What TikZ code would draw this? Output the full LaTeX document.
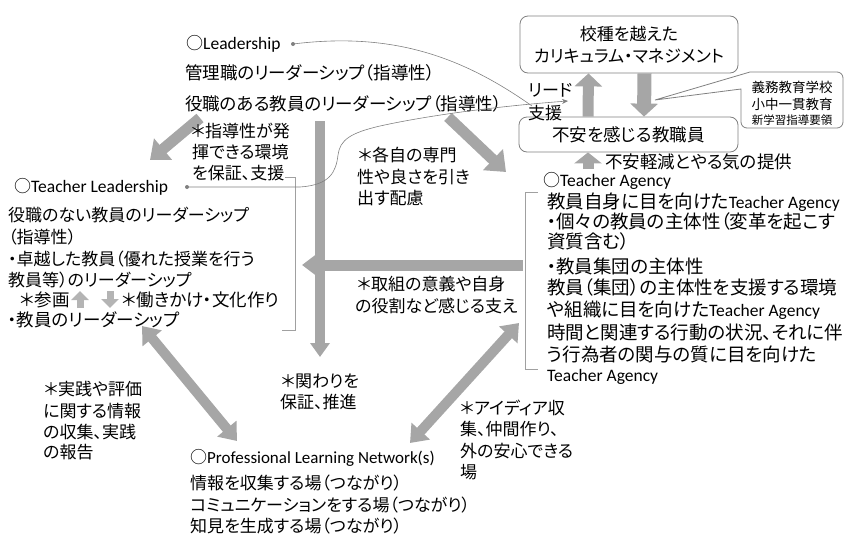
\documentclass[tikz,border=0pt]{standalone}
\usepackage{fontspec}
\setmainfont{Noto Sans CJK JP}[RawFeature={+palt}]
\newfontfamily\la{Carlito}
\usetikzlibrary{arrows.meta}
\definecolor{arrowgray}{RGB}{166,166,166}
\definecolor{smallgray}{RGB}{180,180,180}
\definecolor{linegray}{RGB}{128,128,128}
\definecolor{brgray}{RGB}{160,160,160}
\begin{document}
\begin{tikzpicture}[x=1pt,y=-1pt,
  t/.style={anchor=west, inner sep=0pt, font=\fontsize{17}{20}\selectfont, text height=15pt, text depth=2.5pt},
  tb/.style={t, font=\fontsize{17.5}{20}\selectfont},
  ta/.style={t, font=\fontsize{18.5}{21}\selectfont},
  tc/.style={anchor=center, inner sep=0pt, text height=15pt, text depth=2.5pt},
  roundbox/.style={draw=linegray, line width=0.8pt, rounded corners=8pt, inner sep=0pt, align=center},
  thin/.style={draw=linegray, line width=0.6pt},
  bracket/.style={draw=brgray, line width=1pt},
  dot/.style={circle, fill=linegray, inner sep=0pt, minimum size=4pt},
  bigarrow/.style n args={3}{arrowgray, line width=#1, -{Triangle[width=#2,length=#3]}},
  dblarrow/.style n args={3}{arrowgray, line width=#1, {Triangle[width=#2,length=#3]}-{Triangle[width=#2,length=#3]}},
  smallarrow/.style={smallgray, line width=7pt, -{Triangle[width=17pt,length=9pt]}}
]
\useasboundingbox (0,0) rectangle (844,536);

% ---------- boxes ----------
\node[roundbox, minimum width=218pt, minimum height=57pt, font=\fontsize{17}{22}\selectfont] (box1) at (629,44.5) {校種を越えた\\カリキュラム・マネジメント};
\node[roundbox, minimum width=219pt, minimum height=35pt, font=\fontsize{17.5}{20}\selectfont] (box2) at (628.5,134.5) {不安を感じる教職員};

% callout
\draw[draw=linegray, line width=0.8pt] (750,72) -- (655,100) -- (741,89) [rounded corners=6pt] -- (741,128) -- (843,128) -- (843,72) -- (750,72);
\node[tc, font=\fontsize{13.5}{16}\selectfont] (c1) at (792,86) {義務教育学校};
\node[tc, font=\fontsize{13.5}{16}\selectfont] (c2) at (792,103) {小中一貫教育};
\node[tc, font=\fontsize{11.5}{14}\selectfont, text height=12pt, text depth=2pt] (c3) at (792,119) {新学習指導要領};

% ---------- brackets ----------
\draw[bracket] (285,177) -- (295,177) -- (295,330) -- (282,330);
\draw[bracket] (538,192) -- (525,192) -- (525,369) -- (538,369);

% ---------- coordinates ----------
\coordinate (a3s) at (588,169);
\coordinate (vtop) at (320,121);
\coordinate (vtip) at (320,357);
\coordinate (dlt) at (200,118);
\coordinate (dlh) at (150,160);
\coordinate (drt) at (448,117);
\coordinate (drh) at (506,172);
\coordinate (hs) at (523,265);
\coordinate (he) at (302,265);
\coordinate (tlb) at (142,326);
\coordinate (plnl) at (237,441);
\coordinate (plnr) at (410,443);
\coordinate (tab) at (519,323);
\coordinate (su1) at (80,308);
\coordinate (su2) at (80,291);
\coordinate (sd1) at (110,291);
\coordinate (sd2) at (110,308);

% ---------- big arrows ----------
\draw[bigarrow={11pt}{27pt}{13pt}] ([xshift=-40.5pt]box2.north) -- ([xshift=-40.5pt]box1.south);
\draw[bigarrow={14pt}{27pt}{13pt}] ([xshift=15.5pt]box1.south) -- ([xshift=15.5pt]box2.north);
\draw[bigarrow={11pt}{27pt}{11pt}] (a3s) -- ([xshift=-40.5pt]box2.south);
\draw[bigarrow={10pt}{19pt}{14pt}] (vtop) -- (vtip);
\draw[bigarrow={11pt}{27pt}{17pt}] (dlt) -- (dlh);
\draw[bigarrow={11pt}{28pt}{18pt}] (drt) -- (drh);
\draw[bigarrow={11pt}{26pt}{18pt}] (hs) -- (he);
\draw[dblarrow={10pt}{24pt}{16pt}] (tlb) -- (plnl);
\draw[dblarrow={10pt}{24pt}{16pt}] (plnr) -- (tab);
\draw[smallarrow] (su1) -- (su2);
\draw[smallarrow] (sd1) -- (sd2);

% ---------- texts ----------
\node[t] (l0) at (186,43) {○{\la\fontsize{17.5}{20}\selectfont Leadership}};
\node[tb] (l1) at (185,73) {管理職のリーダーシップ（指導性）};
\node[tb] (l2) at (185,104) {役職のある教員のリーダーシップ（指導性）};

\node[t] (s1a) at (191,131) {＊指導性が発};
\node[t] (s1b) at (192,152) {揮できる環境};
\node[t] (s1c) at (192,173) {を保証、支援};

\node[t] (tl0) at (14,186) {○{\la\fontsize{17.5}{20}\selectfont Teacher Leadership}};
\node[t] (tl1) at (8,215) {役職のない教員のリーダーシップ};
\node[t] (tl2) at (8,237) {（指導性）};
\node[t] (tl3) at (8,259) {・卓越した教員（優れた授業を行う};
\node[t] (tl4) at (8,280) {教員等）のリーダーシップ};
\node[tb] (tl5a) at (20,300) {＊参画};
\node[tb] (tl5b) at (122,300) {＊働きかけ・文化作り};
\node[tb] (tl6) at (8,320) {・教員のリーダーシップ};

\node[t] (s2a) at (358,155) {＊各自の専門};
\node[t] (s2b) at (357,177) {性や良さを引き};
\node[t] (s2c) at (357,198) {出す配慮};

\node[t] (s3a) at (357,284) {＊取組の意義や自身};
\node[t] (s3b) at (355,306) {の役割など感じる支え};

\node[t] (ta0) at (543,180) {○{\la\fontsize{17.5}{20}\selectfont Teacher Agency}};
\node[ta] (ta1) at (547,202) {教員自身に目を向けた{\la\fontsize{17.5}{20}\selectfont Teacher Agency}};
\node[ta] (ta2) at (547,222) {・個々の教員の主体性（変革を起こす};
\node[ta] (ta3) at (547,242) {資質含む）};
\node[ta] (ta4) at (547,267) {・教員集団の主体性};
\node[ta] (ta5) at (547,288) {教員（集団）の主体性を支援する環境};
\node[ta] (ta6) at (547,310) {や組織に目を向けた{\la\fontsize{17.5}{20}\selectfont Teacher Agency}};
\node[ta] (ta7) at (547,333) {時間と関連する行動の状況、それに伴};
\node[ta] (ta8) at (547,355) {う行為者の関与の質に目を向けた};
\node[t] (ta9) at (547,375) {{\la\fontsize{17.5}{20}\selectfont Teacher Agency}};

\node[t] (s4a) at (281,381) {＊関わりを};
\node[t] (s4b) at (280,402) {保証、推進};

\node[t] (s5a) at (44,389) {＊実践や評価};
\node[t] (s5b) at (43,411) {に関する情報};
\node[t] (s5c) at (43,432) {の収集、実践};
\node[t] (s5d) at (43,452) {の報告};

\node[t] (s6a) at (460,408) {＊アイディア収};
\node[t] (s6b) at (460,429) {集、仲間作り、};
\node[t] (s6c) at (460,451) {外の安心できる};
\node[t] (s6d) at (460,472) {場};

\node[t] (p0) at (190,457) {○{\la Professional Learning Network(s)}};
\node[t] (p1) at (190,483) {情報を収集する場（つながり）};
\node[t] (p2) at (190,505) {コミュニケーションをする場（つながり）};
\node[t] (p3) at (190,526) {知見を生成する場（つながり）};

\node[t] (lead1) at (528,90) {リード};
\node[t] (lead2) at (528,113) {支援};
\node[tb] (fuan) at (605,162) {不安軽減とやる気の提供};

% ---------- thin connectors ----------
\node[dot] (dL) at (293,44) {};
\node[dot] (dTL) at (187,187) {};
\coordinate (leadend) at (532,106);
\coordinate (leadtip) at (568,101);
\draw[thin] (dL.center) .. controls (390,32) and (460,55) .. (leadend);
\draw[thin, -{Stealth[length=6pt,width=5pt]}] (dTL.center) -- (300,187) .. controls (330,185) and (336,172) .. (338,155) .. controls (340,140) and (350,133) .. (380,126) .. controls (430,115) and (500,106) .. (leadtip);
\end{tikzpicture}
\end{document}
